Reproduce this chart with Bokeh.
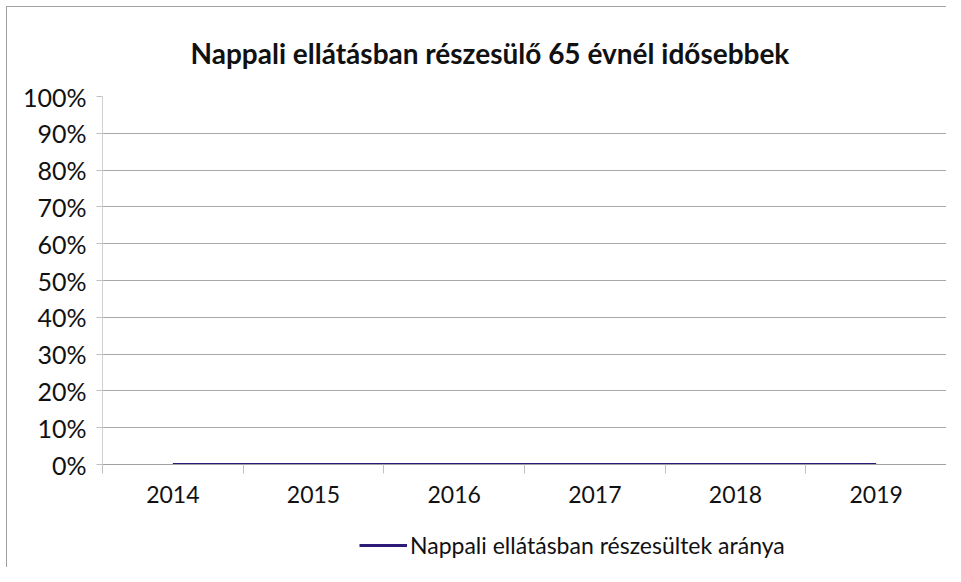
from bokeh.plotting import figure
from bokeh.layouts import column
from bokeh.models import FixedTicker, NumeralTickFormatter, Legend, LegendItem, Range1d
from bokeh.embed import file_html
from bokeh.resources import INLINE

years = ["2014", "2015", "2016", "2017", "2018", "2019"]
values = [0.0, 0.0, 0.0, 0.0, 0.0, 0.0]
series_name = "Nappali ellátásban részesültek aránya"
title_text = "Nappali ellátásban részesülő 65 évnél idősebbek"
y_ticks = [0.0, 0.1, 0.2, 0.3, 0.4, 0.5, 0.6, 0.7, 0.8, 0.9, 1.0]

FONT = "Lato"
LINE_COLOR = "#2e1a78"

xs = [i + 0.5 for i in range(len(years))]

# main chart
p = figure(frame_width=843, frame_height=367, output_backend="svg", toolbar_location=None,
           x_range=Range1d(0, len(years)), y_range=Range1d(0, 1),
           min_border_left=95, min_border_right=1, min_border_top=89, min_border_bottom=60)
p.margin = (6, 0, 0, 6)
p.styles = {"border-left": "1px solid #a0a0a0", "border-top": "1px solid #a0a0a0"}

p.title.text = title_text
p.title.align = "left"
p.title.offset = 88
p.title.text_font = FONT
p.title.text_font_size = "28px"
p.title.text_font_style = "bold"
p.title.text_color = "#111111"
p.title.standoff = 53

p.line(xs, values, line_color=LINE_COLOR, line_width=3)

p.xaxis.ticker = FixedTicker(ticks=xs, minor_ticks=list(range(len(years) + 1)))
p.xaxis.major_label_overrides = {x: y for x, y in zip(xs, years)}
p.xaxis.major_tick_line_color = None
p.xaxis.minor_tick_in = 0
p.xaxis.minor_tick_out = 9
p.xaxis.minor_tick_line_color = "#c0c0c0"
p.xaxis.axis_line_color = "#a0a0a0"
p.xaxis.major_label_text_font = FONT
p.xaxis.major_label_text_font_size = "23px"
p.xaxis.major_label_text_color = "#111111"
p.xaxis.major_label_standoff = 12

p.yaxis.ticker = FixedTicker(ticks=y_ticks)
p.yaxis.formatter = NumeralTickFormatter(format="0%")
p.yaxis.minor_tick_line_color = None
p.yaxis.major_tick_in = 0
p.yaxis.major_tick_out = 6
p.yaxis.major_tick_line_color = "#c0c0c0"
p.yaxis.axis_line_color = "#d0d0d0"
p.yaxis.major_label_text_font = FONT
p.yaxis.major_label_text_font_size = "25px"
p.yaxis.major_label_text_color = "#111111"
p.yaxis.major_label_standoff = 10

p.xgrid.grid_line_color = None
p.ygrid.ticker = FixedTicker(ticks=y_ticks)
p.ygrid.grid_line_color = "#a8a8a8"
p.outline_line_color = None

# legend strip below the chart
p2 = figure(width=939, height=44, output_backend="svg", toolbar_location=None,
            x_range=Range1d(0, len(years)), y_range=Range1d(1, 2),
            x_axis_location=None, y_axis_location=None, min_border=0)
p2.margin = (0, 0, 0, 6)
p2.styles = {"border-left": "1px solid #a0a0a0"}
p2.xgrid.grid_line_color = None
p2.ygrid.grid_line_color = None
p2.outline_line_color = None
r2 = p2.line(xs, values, line_color=LINE_COLOR, line_width=3)

legend = Legend(items=[LegendItem(label=series_name, renderers=[r2])],
                location=(257, 8), orientation="horizontal", margin=0, padding=2,
                label_text_font=FONT, label_text_font_size="23px",
                label_text_color="#111111", glyph_width=48, label_standoff=3,
                border_line_color=None, background_fill_alpha=0)
p2.add_layout(legend, "center")

layout = column(p, p2, spacing=0)

open("out.html", "w").write(file_html(layout, INLINE))
